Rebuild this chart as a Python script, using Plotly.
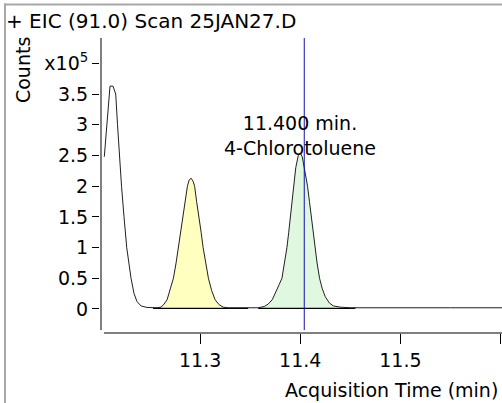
import plotly.graph_objects as go

# chromatogram (time in min, counts in units of 1e5)
time_min = [11.2043, 11.2070, 11.2100, 11.2130, 11.2157, 11.2175, 11.2193, 11.2215,
            11.2240, 11.2267, 11.2310, 11.2340, 11.2370, 11.2410, 11.2470, 11.2530,
            11.2570, 11.2610, 11.2640, 11.2670, 11.2700, 11.2733, 11.2760, 11.2783,
            11.2810, 11.2833, 11.2855, 11.2873, 11.2890, 11.2910, 11.2930, 11.2945,
            11.2965, 11.2990, 11.3010, 11.3030, 11.3055, 11.3083, 11.3115, 11.3150,
            11.3190, 11.3230, 11.3280, 11.3400, 11.3500, 11.3580, 11.3640, 11.3680,
            11.3720, 11.3760, 11.3790, 11.3817, 11.3845, 11.3867, 11.3885, 11.3900,
            11.3918, 11.3933, 11.3955, 11.3980, 11.4000, 11.4020, 11.4040, 11.4060,
            11.4073, 11.4092, 11.4110, 11.4127, 11.4143, 11.4168, 11.4193, 11.4220,
            11.4250, 11.4290, 11.4330, 11.4400, 11.4500, 11.5000, 11.5500, 11.6015]
counts_e5 = [2.48, 3.08, 3.63, 3.63, 3.50, 3.00, 2.50, 2.00,
             1.50, 1.00, 0.50, 0.25, 0.12, 0.05, 0.025, 0.02,
             0.02, 0.03, 0.08, 0.15, 0.30, 0.50, 0.75, 1.00,
             1.30, 1.50, 1.80, 2.00, 2.10, 2.13, 2.08, 2.00,
             1.75, 1.50, 1.25, 1.00, 0.75, 0.50, 0.30, 0.15,
             0.07, 0.03, 0.02, 0.02, 0.02, 0.02, 0.04, 0.08,
             0.15, 0.28, 0.40, 0.50, 0.75, 1.00, 1.25, 1.50,
             1.75, 2.00, 2.30, 2.50, 2.54, 2.48, 2.30, 2.10,
             2.00, 1.75, 1.50, 1.25, 1.00, 0.75, 0.50, 0.33,
             0.20, 0.10, 0.05, 0.03, 0.02, 0.025, 0.02, 0.02]

# integrated peaks: (start, end), baselines and fill colours
peak_ranges = [(11.2570, 11.3230), (11.3580, 11.4330)]
baselines = [(11.253, 11.348), (11.358, 11.455)]
peak_fills = ["#FFFFC0", "#E0F7E0"]

marker_time = 11.404
marker_label = "11.400 min.<br>4-Chlorotoluene"

y_tickvals = [0, 0.5, 1, 1.5, 2, 2.5, 3, 3.5, 4]
y_ticktext = ["0", "0.5", "1", "1.5", "2", "2.5", "3", "3.5", "x10<sup>5</sup>"]
x_tickvals = [11.3, 11.4, 11.5, 11.6]
x_ticktext = ["11.3", "11.4", "11.5", " "]

FONT = "DejaVu Sans"

fig = go.Figure()

for (t0, t1), col in zip(peak_ranges, peak_fills):
    xs = [t for t in time_min if t0 <= t <= t1]
    ys = [c for t, c in zip(time_min, counts_e5) if t0 <= t <= t1]
    fig.add_trace(go.Scatter(x=xs, y=ys, mode="lines", fill="tozeroy",
                             fillcolor=col, line=dict(width=0), hoverinfo="skip"))

for b0, b1 in baselines:
    fig.add_trace(go.Scatter(x=[b0, b1], y=[0.01, 0.01], mode="lines",
                             line=dict(color="black", width=1.3)))

fig.add_trace(go.Scatter(x=time_min, y=counts_e5, mode="lines",
                         line=dict(color="#202020", width=1)))

# marker line
fig.add_shape(type="line", xref="x", yref="paper", x0=marker_time, x1=marker_time,
              y0=0.01, y1=1, line=dict(color="#1010B0", width=1))

# axis lines (drawn by hand so they do not meet at the corner)
fig.add_shape(type="line", xref="paper", yref="paper", x0=0.0025, x1=0.0025,
              y0=0.01, y1=1, line=dict(color="black", width=1))
fig.add_shape(type="line", xref="paper", yref="paper", x0=0.01, x1=1.0,
              y0=0, y1=0, line=dict(color="black", width=1))

# gray frame (top and left edges) as thin filled bars
fig.add_shape(type="rect", xref="paper", yref="paper", x0=-0.2388, x1=1.01,
              y0=1.1102, y1=1.1169, line=dict(width=0), fillcolor="#A8A8A8")
fig.add_shape(type="rect", xref="paper", yref="paper", x0=-0.2388, x1=-0.2338,
              y0=-0.3, y1=1.1169, line=dict(width=0), fillcolor="#A8A8A8")

fig.add_annotation(x=marker_time - 0.004, y=2.82, xref="x", yref="y", text=marker_label,
                   showarrow=False, font=dict(size=19, color="black", family=FONT))
fig.add_annotation(x=-0.2388, y=1.058, xref="paper", yref="paper", xanchor="left",
                   yanchor="middle", text="+ EIC (91.0) Scan 25JAN27.D", showarrow=False,
                   font=dict(size=20, color="black", family=FONT))
fig.add_annotation(x=-0.1915, y=0.8915, xref="paper", yref="paper", textangle=-90,
                   xanchor="center", yanchor="middle",
                   text="Counts", showarrow=False,
                   font=dict(size=19, color="black", family=FONT))
fig.add_annotation(x=0.996, y=-0.193, xref="paper", yref="paper", xanchor="right",
                   yanchor="middle", text="Acquisition Time (min)", showarrow=False,
                   font=dict(size=19, color="black", family=FONT))

fig.update_layout(
    width=502, height=403,
    margin=dict(l=100, r=0, t=38, b=70),
    paper_bgcolor="white", plot_bgcolor="white",
    showlegend=False,
    font=dict(family=FONT, size=19, color="black"),
    xaxis=dict(range=[11.2, 11.6015], showgrid=False, zeroline=False, showline=False,
               ticks="outside", ticklen=10, tickcolor="black",
               tickvals=x_tickvals, ticktext=x_ticktext),
    yaxis=dict(range=[-0.391, 4.414], showgrid=False, zeroline=False, showline=False,
               ticks="outside", ticklen=7, tickcolor="black",
               tickvals=y_tickvals, ticktext=y_ticktext),
)

fig.write_html("out.html", config={"displayModeBar": False},
               post_script="document.body.style.margin='0';")
